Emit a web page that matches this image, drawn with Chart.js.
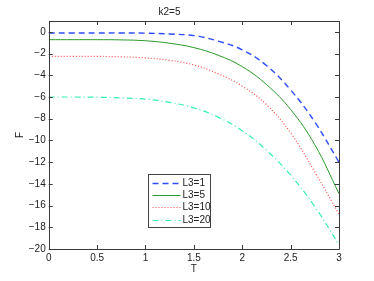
<!DOCTYPE html>
<html>
<head>
<meta charset="utf-8">
<script src="https://cdn.jsdelivr.net/npm/chart.js@4"></script>
<style>
  html, body { margin: 0; padding: 0; background: #fff; }
  #wrap { width: 374px; height: 281px; }
</style>
</head>
<body>
<div id="wrap"><canvas id="chart"></canvas></div>
<script>
// Values
const tValues = [0, 0.25, 0.5, 0.75, 1, 1.25, 1.5, 1.75, 2, 2.25, 2.5, 2.75, 3];
const fL3_1  = [-0.1, -0.1, -0.1, -0.1, -0.12, -0.2, -0.35, -0.85, -1.65, -3.1, -5.35, -8.3, -12.0];
const fL3_5  = [-0.72, -0.72, -0.72, -0.74, -0.82, -1.05, -1.45, -2.15, -3.2, -4.85, -7.15, -10.4, -14.9];
const fL3_10 = [-2.25, -2.25, -2.26, -2.3, -2.4, -2.62, -3.05, -3.85, -5.0, -6.7, -9.3, -12.9, -16.8];
const fL3_20 = [-6.0, -6.0, -6.02, -6.08, -6.2, -6.5, -7.0, -7.85, -9.1, -10.9, -13.2, -16.1, -19.6];
const seriesLabels = ['L3=1', 'L3=5', 'L3=10', 'L3=20'];
const xTickValues = [0, 0.5, 1, 1.5, 2, 2.5, 3];
const yTickValues = [-20, -18, -16, -14, -12, -10, -8, -6, -4, -2, 0];

const FONT = "'Liberation Sans', Arial, sans-serif";
const AXIS_COLOR = '#3a3a3a';

function pts(ys) {
    return tValues.map((t, i) => ({ x: t, y: ys[i] }));
}

// MATLAB style box, inward ticks and legend
const matlabAxes = {
    id: 'matlabAxes',
    afterDatasetsDraw(chart) {
        const { ctx, chartArea: a, scales } = chart;
        const tl = 4;
        ctx.save();
        ctx.strokeStyle = AXIS_COLOR;
        ctx.lineWidth = 1;
        ctx.beginPath();
        ctx.rect(Math.round(a.left) + 0.5, Math.round(a.top) + 0.5,
                 Math.round(a.right - a.left), Math.round(a.bottom - a.top));
        ctx.stroke();
        ctx.beginPath();
        xTickValues.forEach(v => {
            const x = Math.round(scales.x.getPixelForValue(v)) + 0.5;
            ctx.moveTo(x, a.bottom); ctx.lineTo(x, a.bottom - tl);
            ctx.moveTo(x, a.top); ctx.lineTo(x, a.top + tl);
        });
        yTickValues.forEach(v => {
            const y = Math.round(scales.y.getPixelForValue(v)) + 0.5;
            ctx.moveTo(a.left, y); ctx.lineTo(a.left + tl, y);
            ctx.moveTo(a.right, y); ctx.lineTo(a.right - tl, y);
        });
        ctx.stroke();

        // legend
        const lx = 148.5, ly = 174.5, lw = 62, lh = 53;
        ctx.fillStyle = '#fff';
        ctx.fillRect(lx, ly, lw, lh);
        ctx.strokeStyle = '#444';
        ctx.strokeRect(lx, ly, lw, lh);
        ctx.font = '10px ' + FONT;
        ctx.textBaseline = 'middle';
        chart.data.datasets.forEach((ds, i) => {
            const y = Math.round(ly + 8 + i * 12.4) + 0.5;
            ctx.strokeStyle = ds.borderColor;
            ctx.lineWidth = ds.borderWidth;
            ctx.setLineDash(ds.borderDash || []);
            ctx.beginPath();
            ctx.moveTo(lx + 4, y);
            ctx.lineTo(lx + 32, y);
            ctx.stroke();
            ctx.setLineDash([]);
            ctx.fillStyle = '#222';
            ctx.fillText(ds.label, lx + 34, y);
        });
        ctx.restore();
    }
};

new Chart(document.getElementById('chart'), {
    type: 'line',
    data: {
        datasets: [
            { label: seriesLabels[0], data: pts(fL3_1), borderColor: '#2d4dff', borderWidth: 1.4, borderDash: [6, 4] },
            { label: seriesLabels[1], data: pts(fL3_5), borderColor: '#2a9a2a', borderWidth: 1 },
            { label: seriesLabels[2], data: pts(fL3_10), borderColor: '#ff4a4a', borderWidth: 1.2, borderDash: [1, 2] },
            { label: seriesLabels[3], data: pts(fL3_20), borderColor: '#35eeb2', borderWidth: 1.2, borderDash: [6, 3, 1, 3] }
        ]
    },
    options: {
        responsive: true,
        maintainAspectRatio: false,
        animation: false,
        layout: { padding: { left: 0, right: 35, top: 0, bottom: 0 } },
        elements: {
            point: { radius: 0 },
            line: { tension: 0.4, fill: false }
        },
        plugins: {
            legend: { display: false },
            tooltip: { enabled: false },
            title: {
                display: true,
                text: 'k2=5',
                color: '#222',
                font: { family: FONT, size: 10, weight: 'normal' },
                padding: { top: 6, bottom: 3 }
            }
        },
        scales: {
            x: {
                type: 'linear',
                min: 0,
                max: 3,
                afterBuildTicks: s => { s.ticks = xTickValues.map(v => ({ value: v })); },
                afterFit: s => { s.height = 32; },
                grid: { display: false, drawTicks: false },
                border: { display: false },
                ticks: {
                    color: '#222', padding: 3, maxRotation: 0,
                    font: { family: FONT, size: 10 },
                    callback: v => String(v)
                },
                title: { display: true, text: 'T', color: '#222', padding: { top: 0, bottom: 6 }, font: { family: FONT, size: 10 } }
            },
            y: {
                type: 'linear',
                min: -20,
                max: 1,
                afterBuildTicks: s => { s.ticks = yTickValues.map(v => ({ value: v })); },
                afterFit: s => { s.width = 48.7; },
                grid: { display: false, drawTicks: false },
                border: { display: false },
                ticks: {
                    color: '#222',
                    padding: 3,
                    font: { family: FONT, size: 10 },
                    callback: v => (v < 0 ? '\u2212' + Math.abs(v) : String(v))
                },
                title: { display: true, text: 'F', color: '#222', padding: { top: 14, bottom: 0 }, font: { family: FONT, size: 10 } }
            }
        }
    },
    plugins: [matlabAxes]
});
</script>
</body>
</html>
